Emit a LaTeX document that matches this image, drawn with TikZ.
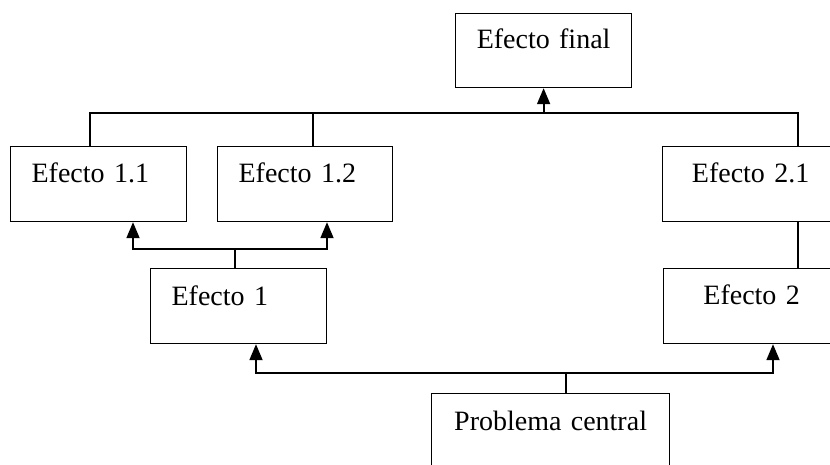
\documentclass[tikz,border=0pt]{standalone}
\usepackage{fontspec}
\setmainfont{Liberation Serif}
\usetikzlibrary{arrows.meta}
\begin{document}
\begin{tikzpicture}[x=1pt,y=-1pt,
  box/.style={draw,line width=1.2pt,anchor=north west,inner ysep=0pt,
    font=\fontsize{28}{34}\selectfont},
  lbox/.style={box,inner xsep=21pt,align=left},
  cbox/.style={box,inner xsep=0pt,align=center},
  link/.style={line width=1.4pt},
  up/.style={line width=1.8pt,-{Triangle[length=16pt,width=13pt]}},
]
\useasboundingbox (0,0) rectangle (830,465);
\clip (0,0) rectangle (830,465);

% boxes
\node[cbox,text width=176pt,text height=35pt,text depth=39pt] (final) at (455,13) {Efecto final};
\node[lbox,text width=134pt,text height=36pt,text depth=39pt] (e11) at (10,146) {Efecto 1.1};
\node[lbox,text width=133pt,text height=36pt,text depth=39pt] (e12) at (217,146) {Efecto 1.2};
\node[cbox,text width=176pt,text height=36pt,text depth=39pt] (e21) at (662,146) {Efecto 2.1};
\node[lbox,text width=134pt,text height=37pt,text depth=38pt] (e1) at (150,268) {Efecto 1};
\node[cbox,text width=176pt,text height=36pt,text depth=39pt] (e2) at (663,268) {Efecto 2};
\node[cbox,text width=238pt,text height=37pt,text depth=45pt] (pc) at (431,393) {Problema central};

% top level: effects feed the final effect
\coordinate (hub) at ([yshift=-25pt]final.south);
\coordinate (t11) at ([xshift=80pt]e11.north west);
\coordinate (t12) at ([xshift=96pt]e12.north west);
\coordinate (t21) at ([xshift=136pt]e21.north west);
\draw[link] (t11) -- (t11 |- hub) -- (t21 |- hub) -- (t21);
\draw[link] (t12) -- (t12 |- hub);
\draw[up] (hub) -- (final.south);

% effect 1 branches
\coordinate (s1) at ([xshift=85pt]e1.north west);
\coordinate (h1) at ([yshift=19pt]s1);
\coordinate (a11) at ([xshift=123pt]e11.south west);
\coordinate (a12) at ([xshift=110pt]e12.south west);
\draw[link] (s1) -- (h1);
\draw[up] (h1) -| (a11);
\draw[up] (h1) -| (a12);

% effect 2 branch
\coordinate (b21) at ([xshift=136pt]e21.south west);
\draw[link] (b21) -- (b21 |- e2.north);

% central problem branches
\coordinate (sp) at ([xshift=135pt]pc.north west);
\coordinate (hp) at ([yshift=20pt]sp);
\coordinate (a1) at ([xshift=106pt]e1.south west);
\coordinate (a2) at ([xshift=110pt]e2.south west);
\draw[link] (sp) -- (hp);
\draw[up] (hp) -| (a1);
\draw[up] (hp) -| (a2);
\end{tikzpicture}
\end{document}
